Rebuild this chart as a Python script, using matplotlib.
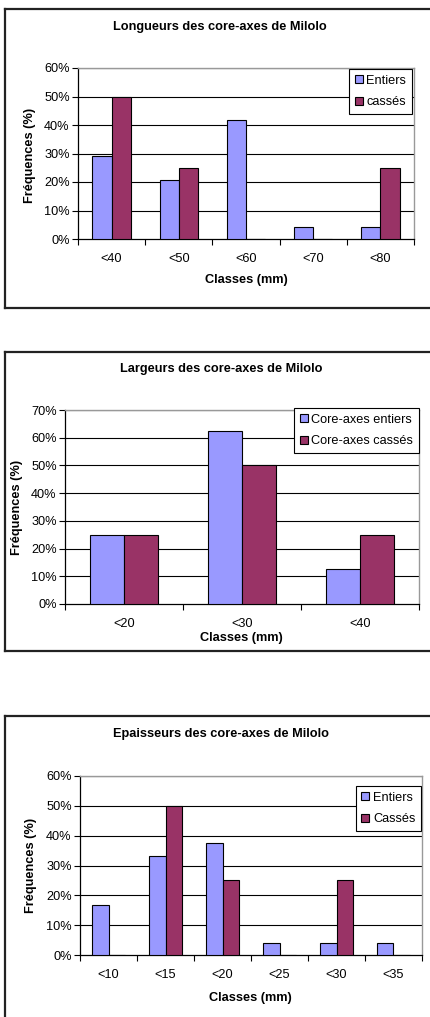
import matplotlib.pyplot as plt
import numpy as np
from matplotlib.lines import Line2D

plt.rcParams["font.family"] = ["Liberation Sans", "DejaVu Sans"]

W, H = 430, 1017
FS = 9.2

BLUE = "#9999FF"
MAROON = "#993366"

# Longueurs
long_classes = ["<40", "<50", "<60", "<70", "<80"]
long_entiers = [7 / 24, 5 / 24, 10 / 24, 1 / 24, 1 / 24]
long_casses = [0.50, 0.25, 0.0, 0.0, 0.25]

# Largeurs
larg_classes = ["<20", "<30", "<40"]
larg_entiers = [0.25, 0.625, 0.125]
larg_casses = [0.25, 0.50, 0.25]

# Epaisseurs
ep_classes = ["<10", "<15", "<20", "<25", "<30", "<35"]
ep_entiers = [4 / 24, 8 / 24, 9 / 24, 1 / 24, 1 / 24, 1 / 24]
ep_casses = [0.0, 0.50, 0.25, 0.0, 0.25, 0.0]


def fx(px):
    return px / W


def fy(py):
    return 1 - py / H


def bar_chart(fig, box, classes, entiers, casses, ymax, labels, title,
              title_xy, xlabel_xy, ylabel_xy, leg_xy):
    left, top, right, bottom = box
    ax = fig.add_axes([fx(left), fy(bottom), fx(right - left), (bottom - top) / H])
    n = len(classes)
    x = np.arange(n)
    w = 1 / 3.5
    ax.bar(x - w / 2, entiers, w, color=BLUE, edgecolor="black", linewidth=0.8,
           label=labels[0], zorder=3)
    ax.bar(x + w / 2, casses, w, color=MAROON, edgecolor="black", linewidth=0.8,
           label=labels[1], zorder=3)
    ax.set_xlim(-0.5, n - 0.5)
    ax.set_ylim(0, ymax)
    yt = np.arange(0, ymax + 0.001, 0.1)
    ax.set_yticks(yt)
    ax.set_yticklabels([f"{int(round(v * 100))}%" for v in yt], fontsize=FS)
    for v in yt[1:]:
        ax.axhline(v, color="black", linewidth=0.8, zorder=1)
    ax.set_xticks(x)
    ax.set_xticklabels(classes, fontsize=FS)
    ax.set_xticks(np.arange(-0.5, n, 1), minor=True)
    ax.tick_params(axis="x", which="major", length=0, pad=10)
    ax.tick_params(axis="x", which="minor", length=4, direction="out", width=0.8)
    ax.tick_params(axis="y", length=4, direction="out", width=0.8, pad=2)
    for s in ["top", "right"]:
        ax.spines[s].set_color("#999999")
        ax.spines[s].set_linewidth(1.0)
    for s in ["left", "bottom"]:
        ax.spines[s].set_color("black")
        ax.spines[s].set_linewidth(0.9)
    fig.text(fx(title_xy[0]), fy(title_xy[1]), title, fontsize=FS, fontweight="bold",
             ha="center", va="center")
    fig.text(fx(xlabel_xy[0]), fy(xlabel_xy[1]), "Classes (mm)", fontsize=FS,
             fontweight="bold", ha="center", va="center")
    fig.text(fx(ylabel_xy[0]), fy(ylabel_xy[1]), "Fréquences (%)", fontsize=FS,
             fontweight="bold", ha="center", va="center", rotation=90)
    leg = ax.legend(loc="upper right", bbox_to_anchor=(fx(leg_xy[0]), fy(leg_xy[1])),
                    bbox_transform=fig.transFigure, fontsize=FS, fancybox=False,
                    framealpha=1, edgecolor="black", handlelength=0.6, handleheight=0.6,
                    handletextpad=0.3, borderpad=0.45, labelspacing=0.75, borderaxespad=0)
    leg.get_frame().set_linewidth(0.8)
    return ax


def outer_box(fig, top, bottom=None):
    kw = dict(color="#222222", linewidth=1.6, transform=fig.transFigure)
    fig.add_artist(Line2D([fx(5), 1.0], [fy(top), fy(top)], **kw))
    yb = fy(bottom) if bottom is not None else 0
    fig.add_artist(Line2D([fx(5), fx(5)], [fy(top), yb], **kw))
    if bottom is not None:
        fig.add_artist(Line2D([fx(5), 1.0], [fy(bottom), fy(bottom)], **kw))


fig = plt.figure(figsize=(W / 100, H / 100), dpi=100)

outer_box(fig, 9, 308)
bar_chart(fig, (78, 68, 414, 239), long_classes, long_entiers, long_casses, 0.6,
          ["Entiers", "cassés"], "Longueurs des core-axes de Milolo",
          (220, 27), (246, 280), (30, 155), (412, 69))

outer_box(fig, 352, 651)
bar_chart(fig, (65, 410, 419, 604), larg_classes, larg_entiers, larg_casses, 0.7,
          ["Core-axes entiers", "Core-axes cassés"], "Largeurs des core-axes de Milolo",
          (221, 369), (241, 638), (17, 507), (419, 408))

outer_box(fig, 716)
bar_chart(fig, (80, 776, 422, 955), ep_classes, ep_entiers, ep_casses, 0.6,
          ["Entiers", "Cassés"], "Epaisseurs des core-axes de Milolo",
          (221, 734), (250, 998), (31, 865), (421, 786))

fig.savefig("out.png", dpi=100)
